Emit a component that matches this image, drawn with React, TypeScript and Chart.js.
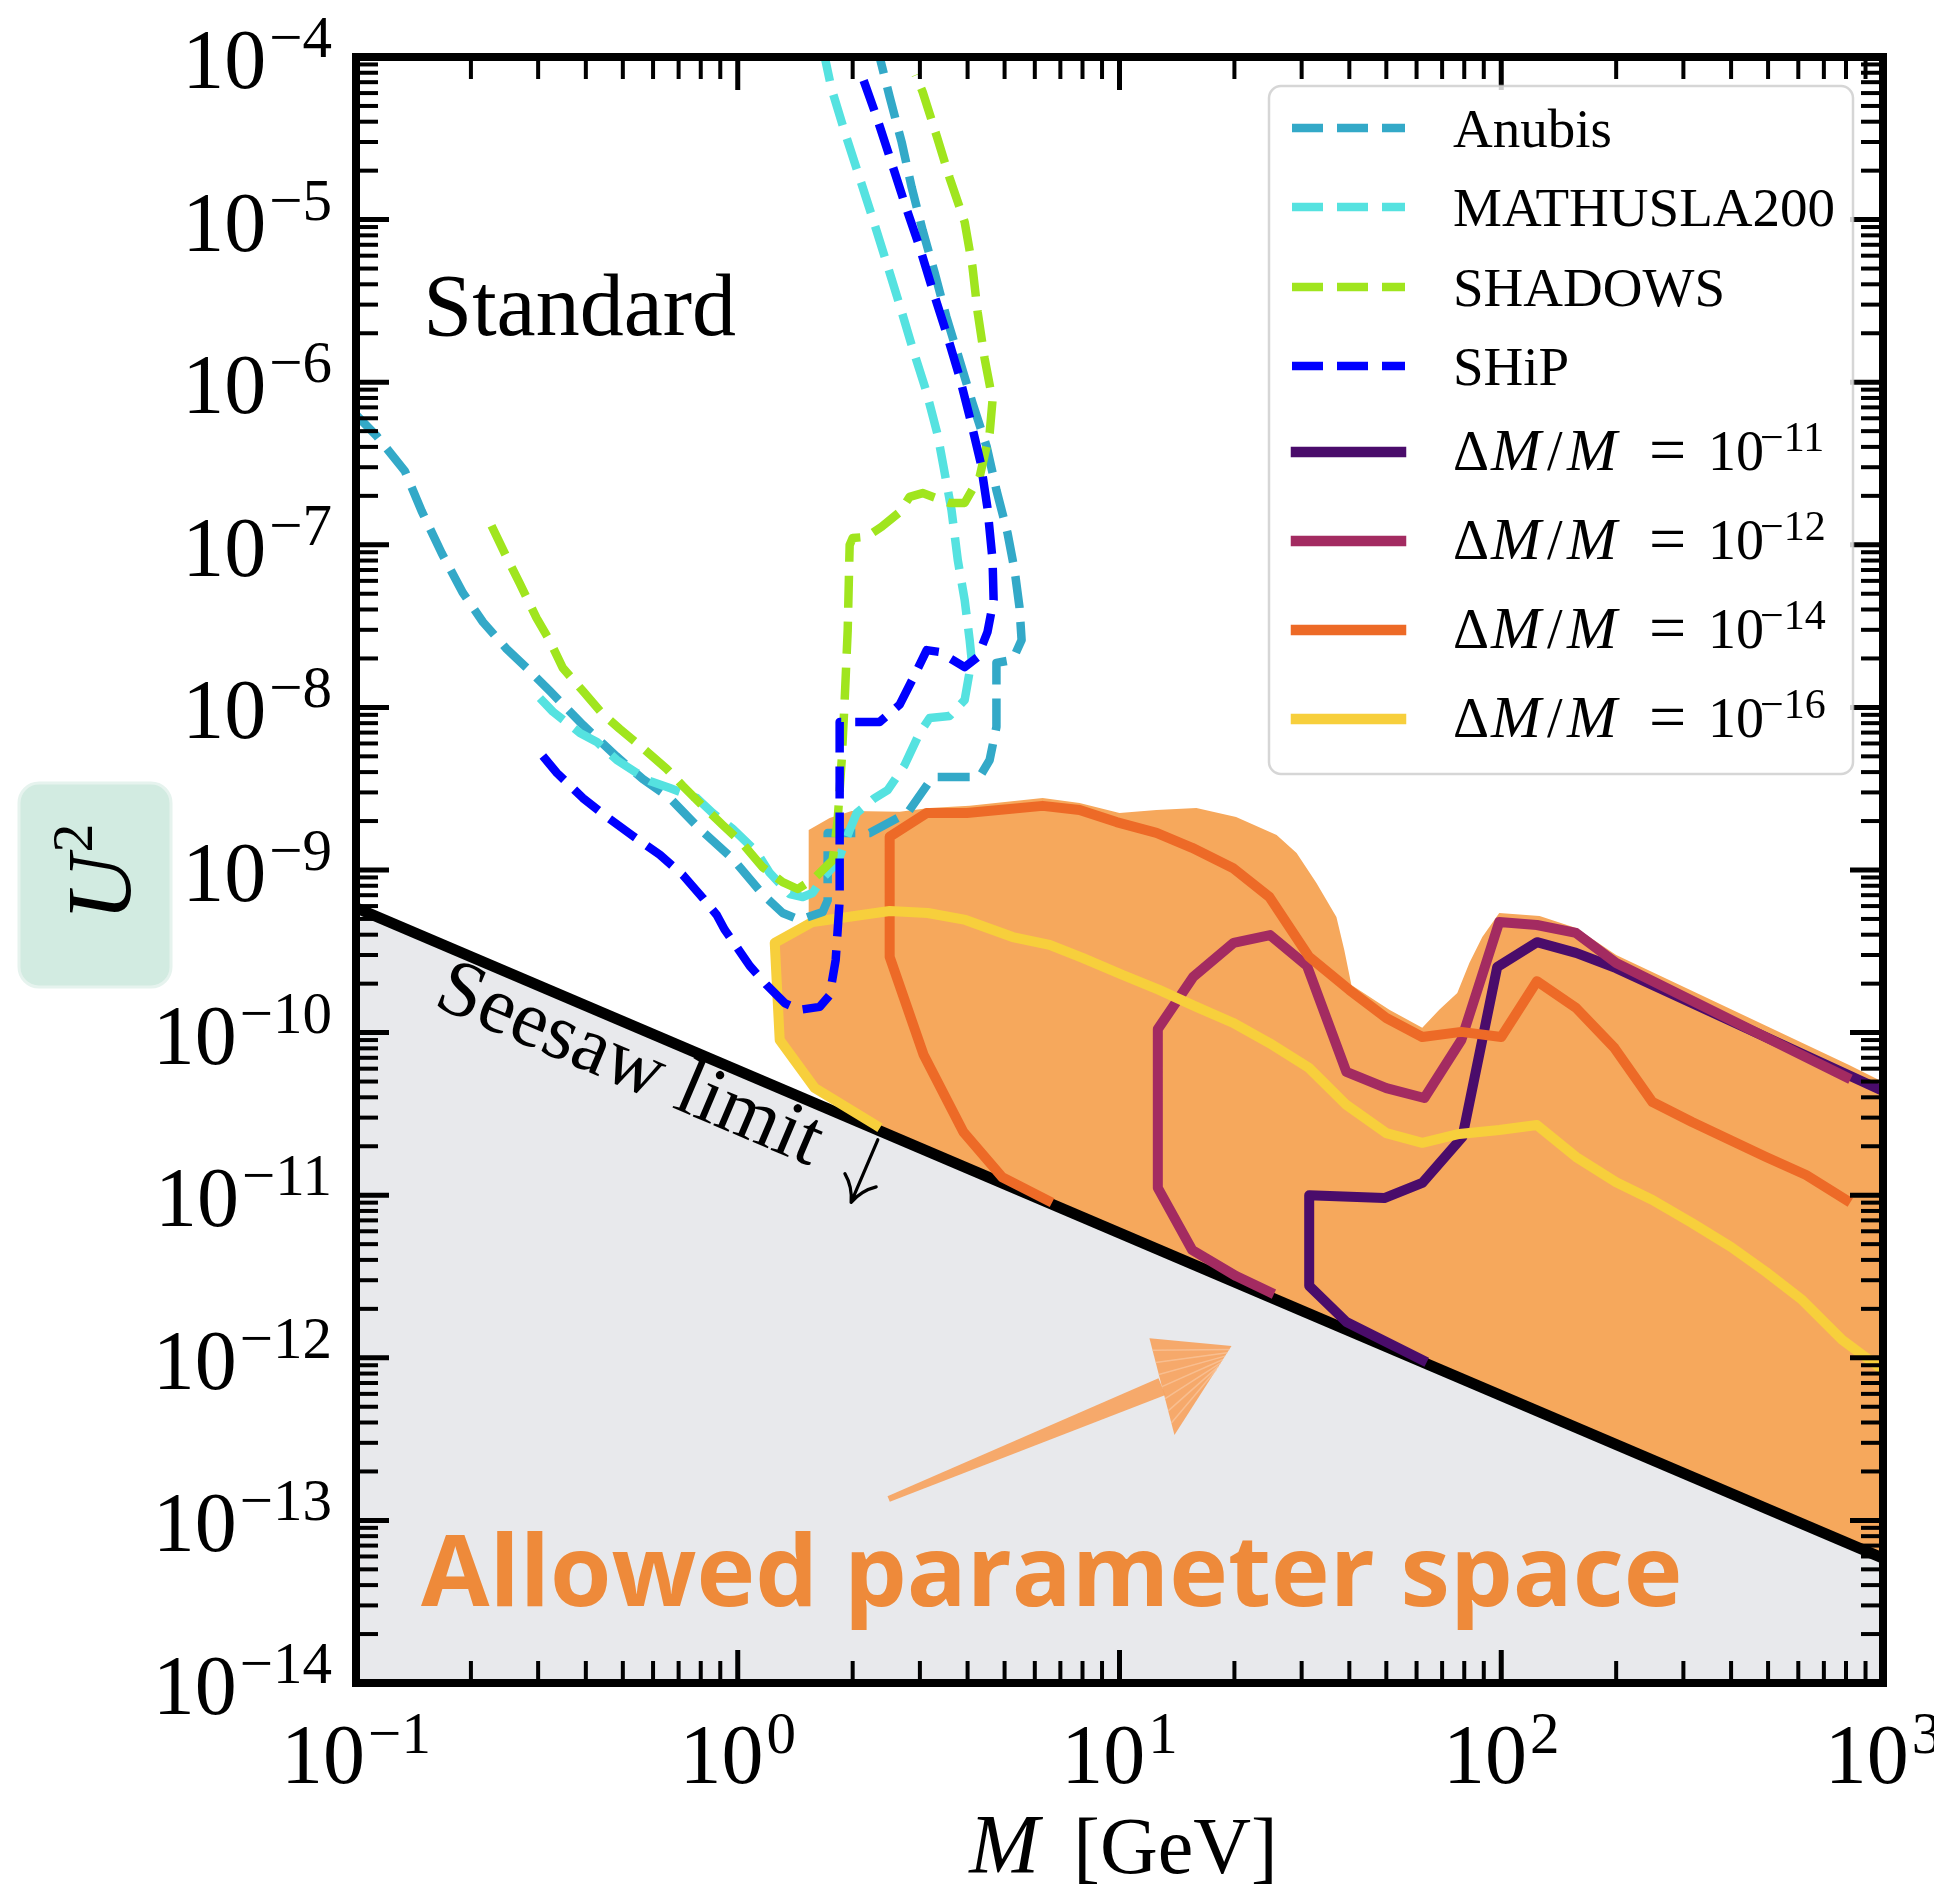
import React, { useEffect, useRef } from "react";
import { Chart, registerables } from "chart.js";

Chart.register(...registerables);

type Pt = [number, number];

// ---------------- axes ----------------
const X_MIN = 0.1;
const X_MAX = 1000;
const Y_MIN = 1e-14;
const Y_MAX = 1e-4;
const X_TICK_EXPONENTS = [-1, 0, 1, 2, 3];
const Y_TICK_EXPONENTS = [-14, -13, -12, -11, -10, -9, -8, -7, -6, -5, -4];

// ---------------- series: [M (GeV), U^2] ----------------
const ANUBIS: Pt[] = [
  [0.1, 6.3e-7], [0.1133, 4.67e-7], [0.1343, 2.84e-7], [0.1486, 1.61e-7], [0.1676, 8.9e-8],
  [0.1906, 5.06e-8], [0.215, 3.35e-8], [0.248, 2.29e-8], [0.28, 1.75e-8], [0.322, 1.26e-8],
  [0.393, 7.8e-9], [0.481, 5.0e-9], [0.564, 3.63e-9], [0.664, 2.77e-9], [0.795, 1.79e-9],
  [0.97, 1.17e-9], [1.162, 7.1e-10], [1.311, 5.44e-10], [1.453, 4.93e-10], [1.669, 5.52e-10],
  [1.72, 6.5e-10], [1.72, 1.69e-9], [2.216, 1.69e-9], [2.786, 2.25e-9], [3.24, 3.73e-9],
  [4.3, 3.73e-9], [4.57, 4.75e-9], [4.76, 7.59e-9], [4.76, 1.88e-8], [5.25, 1.96e-8],
  [5.54, 2.6e-8], [5.47, 4.14e-8], [5.31, 7.0e-8], [5.09, 1.18e-7], [4.76, 2.17e-7],
  [4.49, 4.0e-7], [4.12, 7.45e-7], [3.81, 1.37e-6], [3.52, 2.52e-6], [3.28, 4.7e-6],
  [3.05, 8.6e-6], [2.855, 1.58e-5], [2.687, 3.0e-5], [2.5, 5.68e-5], [2.353, 1e-4],
];

const MATHUSLA200: Pt[] = [
  [0.3032, 1.14e-8], [0.328, 9.4e-9], [0.386, 6.97e-9], [0.4275, 6.13e-9], [0.482, 4.75e-9],
  [0.544, 3.95e-9], [0.588, 3.53e-9], [0.664, 3.19e-9], [0.781, 2.77e-9], [0.86, 2.24e-9],
  [0.97, 1.79e-9], [1.121, 1.29e-9], [1.213, 9.6e-10], [1.368, 7.1e-10], [1.48, 6.82e-10],
  [1.571, 7.22e-10], [1.669, 8.93e-10], [1.827, 1.12e-9], [1.964, 1.76e-9], [2.049, 2.24e-9],
  [2.284, 2.77e-9], [2.47, 3.1e-9], [2.736, 4.42e-9], [2.995, 6.97e-9], [3.18, 8.6e-9],
  [3.59, 8.86e-9], [3.93, 1.11e-8], [4.1, 1.96e-8], [4.05, 2.6e-8], [3.93, 4.58e-8],
  [3.77, 8.06e-8], [3.63, 1.64e-7], [3.34, 4.73e-7], [3.12, 8.75e-7], [2.87, 1.62e-6],
  [2.656, 2.98e-6], [2.45, 5.49e-6], [2.256, 1.02e-5], [2.074, 1.88e-5], [1.906, 3.46e-5],
  [1.759, 6.44e-5], [1.69, 1e-4],
];

const SHADOWS: Pt[] = [
  [0.2265, 1.31e-7], [0.248, 8.41e-8], [0.2687, 5.77e-8], [0.297, 3.55e-8], [0.322, 2.56e-8],
  [0.348, 1.75e-8], [0.393, 1.26e-8], [0.443, 9.1e-9], [0.491, 7.36e-9], [0.564, 5.62e-9],
  [0.652, 4.18e-9], [0.718, 3.29e-9], [0.81, 2.48e-9], [0.913, 1.89e-9], [1.031, 1.45e-9],
  [1.162, 1.04e-9], [1.311, 8.43e-10], [1.436, 7.64e-10], [1.591, 8.93e-10], [1.773, 1.15e-9],
  [1.827, 2.03e-9], [1.872, 4.75e-9], [1.906, 1.11e-8], [1.941, 2.99e-8], [1.964, 9.98e-8],
  [2.0, 1.1e-7], [2.176, 1.12e-7], [2.382, 1.29e-7], [2.656, 1.59e-7], [2.82, 1.97e-7],
  [3.05, 2.08e-7], [3.59, 1.81e-7], [3.93, 1.81e-7], [4.3, 2.61e-7], [4.57, 4.88e-7],
  [4.65, 7.78e-7], [4.43, 1.41e-6], [4.25, 2.7e-6], [4.12, 5.11e-6], [3.93, 9.66e-6],
  [3.59, 1.8e-5], [3.32, 3.27e-5], [3.05, 6.1e-5], [2.924, 7.75e-5],
];

const SHIP: Pt[] = [
  [0.3086, 5.02e-9], [0.336, 3.95e-9], [0.393, 2.77e-9], [0.454, 2.12e-9], [0.531, 1.62e-9],
  [0.625, 1.24e-9], [0.718, 9.31e-10], [0.81, 6.73e-10], [0.881, 5.29e-10], [0.925, 4.28e-10],
  [0.994, 3.36e-10], [1.075, 2.57e-10], [1.191, 1.96e-10], [1.327, 1.52e-10], [1.453, 1.38e-10],
  [1.64, 1.44e-10], [1.741, 1.7e-10], [1.805, 2.79e-10], [1.849, 6.53e-10], [1.849, 8.13e-9],
  [2.353, 8.13e-9], [2.656, 1.04e-8], [2.907, 1.58e-8], [3.126, 2.25e-8], [3.38, 2.19e-8],
  [3.93, 1.77e-8], [4.25, 2.04e-8], [4.51, 2.91e-8], [4.68, 4.58e-8], [4.65, 8.06e-8],
  [4.51, 1.68e-7], [4.33, 3.18e-7], [4.07, 5.86e-7], [3.81, 1.08e-6], [3.52, 2.01e-6],
  [3.24, 3.69e-6], [2.995, 6.78e-6], [2.736, 1.26e-5], [2.515, 2.33e-5], [2.311, 4.28e-5],
  [2.112, 7.75e-5],
];

const DM_1E11: Pt[] = [
  [62.1, 9.7e-13], [39.3, 1.66e-12], [31.4, 2.77e-12], [31.4, 1.0e-11], [49.4, 9.6e-12],
  [62.1, 1.19e-11], [79.1, 2.28e-11], [97.6, 2.53e-10], [124, 3.6e-10], [157, 3.09e-10],
  [200, 2.49e-10], [1000, 4.38e-11],
];

const DM_1E12: Pt[] = [
  [24.7, 2.54e-12], [20.2, 3.18e-12], [15.5, 4.6e-12], [12.6, 1.11e-11], [12.6, 1.05e-10],
  [15.6, 2.2e-10], [19.9, 3.56e-10], [24.8, 3.98e-10], [31.0, 2.57e-10], [39.3, 5.73e-11],
  [50.0, 4.56e-11], [62.9, 3.96e-11], [78.6, 9.0e-11], [98.8, 4.79e-10], [124, 4.59e-10],
  [157, 4.1e-10], [200, 2.68e-10], [800, 5.33e-11],
];

const DM_1E14: Pt[] = [
  [6.48, 9.3e-12], [4.93, 1.29e-11], [3.9, 2.45e-11], [3.07, 7.28e-11], [2.5, 2.92e-10],
  [2.5, 1.6e-9], [3.126, 2.24e-9], [3.98, 2.24e-9], [6.29, 2.48e-9], [7.86, 2.34e-9],
  [9.82, 1.97e-9], [12.5, 1.69e-9], [15.5, 1.37e-9], [19.8, 1.03e-9], [24.7, 6.82e-10],
  [31.4, 2.92e-10], [40.0, 1.83e-10], [50.0, 1.23e-10], [62.1, 9.4e-11], [78.6, 1.01e-10],
  [100, 9.4e-11], [124, 2.07e-10], [157, 1.42e-10], [198, 8.04e-11], [249, 3.74e-11],
  [316, 2.82e-11], [494, 1.72e-11], [629, 1.33e-11], [800, 9.35e-12],
];

const DM_1E16: Pt[] = [
  [2.298, 2.7e-11], [1.591, 4.56e-11], [1.288, 9.0e-11], [1.25, 3.56e-10], [1.571, 4.79e-10],
  [2.5, 5.6e-10], [3.145, 5.44e-10], [3.95, 4.93e-10], [5.25, 3.87e-10], [6.56, 3.46e-10],
  [8.0, 2.88e-10], [10.2, 2.26e-10], [12.7, 1.83e-10], [15.9, 1.44e-10], [19.8, 1.15e-10],
  [24.7, 8.63e-11], [31.4, 6.05e-11], [39.3, 3.59e-11], [50.0, 2.41e-11], [62.1, 2.1e-11],
  [77.6, 2.38e-11], [98.8, 2.52e-11], [124, 2.7e-11], [157, 1.72e-11], [200, 1.2e-11],
  [249, 9.35e-12], [316, 6.75e-12], [400, 4.8e-12], [494, 3.37e-12], [614, 2.27e-12],
  [781, 1.29e-12], [1000, 8.4e-13],
];

const ALLOWED_REGION: Pt[] = [
  [2.298, 2.55e-11], [1.591, 4.7e-11], [1.27, 8.8e-11], [1.235, 3.56e-10], [1.534, 4.79e-10],
  [1.534, 1.76e-9], [1.741, 2.09e-9], [1.988, 2.31e-9], [2.656, 2.28e-9], [3.18, 2.41e-9],
  [4.05, 2.48e-9], [6.29, 2.77e-9], [7.86, 2.58e-9], [10, 2.24e-9], [12.5, 2.34e-9],
  [15.9, 2.41e-9], [20.2, 2.12e-9], [25.8, 1.64e-9], [29.1, 1.27e-9], [32.8, 8.32e-10],
  [37.0, 5.14e-10], [38.8, 3.22e-10], [40.5, 1.96e-10], [50.9, 1.38e-10], [62.1, 1.07e-10],
  [68.8, 1.38e-10], [76.7, 1.75e-10], [82.5, 2.68e-10], [89.2, 3.87e-10], [98.8, 5.44e-10],
  [126, 5.21e-10], [157, 4.4e-10], [200, 3.0e-10], [815, 6.32e-11], [1000, 4.97e-11],
  [1000, 5.86e-14],
];

const SEESAW_LIMIT: Pt[] = [[0.1, 5.86e-10], [1000, 5.86e-14]];

const EXPERIMENT_LABELS = ["Anubis", "MATHUSLA200", "SHADOWS", "SHiP"];
const DM_EXPONENTS = [-11, -12, -14, -16];

// ---------------- annotations (data coordinates) ----------------
const STANDARD_LABEL: Pt = [0.15, 1.95e-6];
const SEESAW_LABEL_M = 0.182;
const ALLOWED_LABEL_START: Pt = [0.148, 2.98e-14];
const ALLOWED_LABEL_END_M = 299;
const SKETCH_ARROW_TAIL: Pt = [2.485, 1.355e-13];
const SKETCH_ARROW_TIP: Pt = [19.65, 1.18e-12];
const SKETCH_ARROW_HEAD_A: Pt = [11.98, 1.32e-12];
const SKETCH_ARROW_HEAD_B: Pt = [13.93, 3.35e-13];

// ---------------- styles ----------------
const EXPERIMENT_COLORS = ["#33a9c8", "#55e2e0", "#a0e51e", "#0000ff"];
const DM_COLORS = ["#4a0c6b", "#a32b61", "#ed6a27", "#f7cf3c"];
const FILL_COLOR = "#f6a85c";
const GRAY_COLOR = "#e8e9ec";
const SERIF = '"Liberation Serif", "DejaVu Serif", serif';
const SANS = '"Open Sans", "Noto Sans", sans-serif';
const MINUS = "\u2212";
const SUPS: Record<string, string> = { "-": "\u207b", "0": "\u2070", "1": "\u00b9", "2": "\u00b2", "3": "\u00b3", "4": "\u2074", "5": "\u2075", "6": "\u2076", "7": "\u2077", "8": "\u2078", "9": "\u2079" };
const toSup = (n: number) => String(n).split("").map((c) => SUPS[c] || c).join("");
const expText = (e: number) => (e < 0 ? MINUS + String(-e) : String(e));
const mk = (pts: Pt[]) => pts.map(([x, y]) => ({ x, y }));

function roundRect(ctx: CanvasRenderingContext2D, x: number, y: number, w: number, h: number, r: number) {
  ctx.beginPath();
  ctx.moveTo(x + r, y);
  ctx.arcTo(x + w, y, x + w, y + h, r);
  ctx.arcTo(x + w, y + h, x, y + h, r);
  ctx.arcTo(x, y + h, x, y, r);
  ctx.arcTo(x, y, x + w, y, r);
  ctx.closePath();
}

function drawPower(
  ctx: CanvasRenderingContext2D, e: number, x: number, baseline: number,
  align: "right" | "center", baseSize: number, supSize: number, rise: number
) {
  const sup = expText(e);
  ctx.font = `${baseSize}px ${SERIF}`;
  const wb = ctx.measureText("10").width;
  ctx.font = `${supSize}px ${SERIF}`;
  const ws = ctx.measureText(sup).width;
  const gap = 3;
  const total = wb + gap + ws;
  const x0 = align === "right" ? x - total : x - total / 2;
  ctx.textAlign = "left";
  ctx.textBaseline = "alphabetic";
  ctx.font = `${baseSize}px ${SERIF}`;
  ctx.fillText("10", x0, baseline);
  ctx.font = `${supSize}px ${SERIF}`;
  ctx.fillText(sup, x0 + wb + gap, baseline - rise);
}

const decorPlugin = {
  id: "decor",
  afterDatasetsDraw(chart: any) {
    const ctx: CanvasRenderingContext2D = chart.ctx;
    const { left, right, top, bottom } = chart.chartArea;
    const xs = chart.scales.x;
    const ys = chart.scales.y;
    const px = (v: number) => xs.getPixelForValue(v);
    const py = (v: number) => ys.getPixelForValue(v);

    ctx.save();
    ctx.fillStyle = "#000";
    ctx.textAlign = "left";
    ctx.textBaseline = "alphabetic";

    // "Standard"
    ctx.font = `88px ${SERIF}`;
    ctx.fillText("Standard", px(STANDARD_LABEL[0]), py(STANDARD_LABEL[1]));

    // "Seesaw limit ↓" along the seesaw line
    const [sa, sb] = SEESAW_LIMIT;
    const pa = { x: px(sa[0]), y: py(sa[1]) };
    const pb = { x: px(sb[0]), y: py(sb[1]) };
    const ang = Math.atan2(pb.y - pa.y, pb.x - pa.x);
    const t = (Math.log10(SEESAW_LABEL_M) - Math.log10(sa[0])) / (Math.log10(sb[0]) - Math.log10(sa[0]));
    const lyv = Math.log10(sa[1]) + t * (Math.log10(sb[1]) - Math.log10(sa[1]));
    ctx.save();
    ctx.translate(px(SEESAW_LABEL_M), py(Math.pow(10, lyv)));
    ctx.rotate(ang);
    ctx.font = `80px ${SERIF}`;
    const seesawText = "Seesaw limit";
    ctx.fillText(seesawText, 0, 60);
    const tw = ctx.measureText(seesawText).width;
    // \downarrow symbol
    const axp = tw + 52;
    ctx.strokeStyle = "#000";
    ctx.lineWidth = 3.2;
    ctx.lineCap = "round";
    ctx.beginPath();
    ctx.moveTo(axp, 9);
    ctx.lineTo(axp, 76);
    ctx.moveTo(axp - 17, 53);
    ctx.quadraticCurveTo(axp - 5, 62, axp, 77);
    ctx.moveTo(axp + 17, 53);
    ctx.quadraticCurveTo(axp + 5, 62, axp, 77);
    ctx.stroke();
    ctx.restore();

    // sketchy arrow
    const tail = { x: px(SKETCH_ARROW_TAIL[0]), y: py(SKETCH_ARROW_TAIL[1]) };
    const tip = { x: px(SKETCH_ARROW_TIP[0]), y: py(SKETCH_ARROW_TIP[1]) };
    const ha = { x: px(SKETCH_ARROW_HEAD_A[0]), y: py(SKETCH_ARROW_HEAD_A[1]) };
    const hb = { x: px(SKETCH_ARROW_HEAD_B[0]), y: py(SKETCH_ARROW_HEAD_B[1]) };
    const hm = { x: (ha.x + hb.x) / 2, y: (ha.y + hb.y) / 2 };
    const dx = hm.x - tail.x, dy = hm.y - tail.y;
    const dl = Math.hypot(dx, dy);
    const nx = -dy / dl, ny = dx / dl;
    ctx.fillStyle = "rgba(246,163,96,0.92)";
    ctx.beginPath();
    ctx.moveTo(tail.x + nx * 3, tail.y + ny * 3);
    ctx.lineTo(hm.x + nx * 9, hm.y + ny * 9);
    ctx.lineTo(hm.x - nx * 9, hm.y - ny * 9);
    ctx.lineTo(tail.x - nx * 3, tail.y - ny * 3);
    ctx.closePath();
    ctx.fill();
    ctx.beginPath();
    ctx.moveTo(ha.x, ha.y);
    ctx.lineTo(tip.x, tip.y);
    ctx.lineTo(hb.x, hb.y);
    ctx.closePath();
    ctx.fill();
    ctx.strokeStyle = "rgba(250,200,160,0.7)";
    ctx.lineWidth = 1.5;
    for (let i = 1; i < 8; i++) {
      const f = i / 8;
      ctx.beginPath();
      ctx.moveTo(ha.x + (hb.x - ha.x) * f, ha.y + (hb.y - ha.y) * f);
      ctx.lineTo(tip.x + (hb.x - tip.x) * f * 0.3, tip.y + (hb.y - tip.y) * f * 0.3);
      ctx.stroke();
    }

    // "Allowed parameter space"
    const ax0 = px(ALLOWED_LABEL_START[0]);
    const ax1 = px(ALLOWED_LABEL_END_M);
    const allowed = "Allowed parameter space";
    ctx.font = `bold 100px ${SANS}`;
    const aw = ctx.measureText(allowed).width;
    const asize = (100 * (ax1 - ax0)) / aw;
    ctx.font = `bold ${asize.toFixed(1)}px ${SANS}`;
    ctx.fillStyle = "#ee8a3a";
    ctx.fillText(allowed, ax0, py(ALLOWED_LABEL_START[1]));

    // spines
    ctx.strokeStyle = "#000";
    ctx.lineWidth = 8;
    ctx.lineJoin = "miter";
    ctx.strokeRect(left, top, right - left, bottom - top);

    // ticks
    const tick = (x1: number, y1: number, x2: number, y2: number, w: number) => {
      ctx.lineWidth = w;
      ctx.lineCap = "butt";
      ctx.beginPath();
      ctx.moveTo(x1, y1);
      ctx.lineTo(x2, y2);
      ctx.stroke();
    };
    const MAJ = 33, MIN = 22, MAJW = 5, MINW = 4;
    X_TICK_EXPONENTS.forEach((e, i) => {
      const p = px(Math.pow(10, e));
      tick(p, bottom, p, bottom - MAJ, MAJW);
      tick(p, top, p, top + MAJ, MAJW);
      if (i < X_TICK_EXPONENTS.length - 1) {
        for (let k = 2; k <= 9; k++) {
          const q = px(k * Math.pow(10, e));
          tick(q, bottom, q, bottom - MIN, MINW);
          tick(q, top, q, top + MIN, MINW);
        }
      }
    });
    Y_TICK_EXPONENTS.forEach((e, i) => {
      const p = py(Math.pow(10, e));
      tick(left, p, left + MAJ, p, MAJW);
      tick(right, p, right - MAJ, p, MAJW);
      if (i < Y_TICK_EXPONENTS.length - 1) {
        for (let k = 2; k <= 9; k++) {
          const q = py(k * Math.pow(10, e));
          tick(left, q, left + MIN, q, MINW);
          tick(right, q, right - MIN, q, MINW);
        }
      }
    });

    // tick labels
    ctx.fillStyle = "#000";
    Y_TICK_EXPONENTS.forEach((e) => {
      const p = py(Math.pow(10, e));
      drawPower(ctx, e, left - 24, p + 31, "right", 84, 59, 31);
    });
    X_TICK_EXPONENTS.forEach((e) => {
      const p = px(Math.pow(10, e));
      drawPower(ctx, e, p, bottom + 100, "center", 84, 59, 30);
    });

    // x axis label: M [GeV]
    {
      ctx.font = `italic 84px ${SERIF}`;
      const wm = ctx.measureText("M").width;
      ctx.font = `80px ${SERIF}`;
      const wg = ctx.measureText("[GeV]").width;
      const gap = 34;
      const tot = wm + gap + wg;
      const x0 = (left + right) / 2 - tot / 2 + 4;
      const bl = bottom + 190;
      ctx.font = `italic 84px ${SERIF}`;
      ctx.fillText("M", x0, bl);
      ctx.font = `80px ${SERIF}`;
      ctx.fillText("[GeV]", x0 + wm + gap, bl);
    }

    // y axis label: U^2 in rounded box
    {
      const cy = (top + bottom) / 2 + 15;
      ctx.fillStyle = "#d2ebe1";
      roundRect(ctx, 11, cy - 102, 152, 204, 20);
      ctx.fill();
      ctx.strokeStyle = "#e6f3ee";
      ctx.lineWidth = 3;
      ctx.stroke();
      ctx.save();
      ctx.translate(122, cy + 36);
      ctx.rotate(-Math.PI / 2);
      ctx.fillStyle = "#000";
      ctx.font = `italic 92px ${SERIF}`;
      const wu = ctx.measureText("U").width;
      ctx.fillText("U", 0, 0);
      ctx.font = `58px ${SERIF}`;
      ctx.fillText("2", wu + 2, -38);
      ctx.restore();
    }

    // legend
    {
      const bw = 584, bh = 688;
      const bx = right - 30 - bw;
      const by = top + 29;
      ctx.fillStyle = "rgba(255,255,255,0.8)";
      roundRect(ctx, bx, by, bw, bh, 12);
      ctx.fill();
      ctx.strokeStyle = "rgba(204,204,204,0.8)";
      ctx.lineWidth = 2.5;
      ctx.stroke();
      const rows = [42, 121, 201, 280, 366, 455, 544, 633];
      const tx = bx + 184;
      ctx.fillStyle = "#000";
      EXPERIMENT_LABELS.forEach((lab, i) => {
        const y = by + rows[i];
        ctx.save();
        ctx.strokeStyle = EXPERIMENT_COLORS[i];
        ctx.lineWidth = 8.5;
        ctx.lineCap = "butt";
        ctx.setLineDash([31, 14]);
        ctx.beginPath();
        ctx.moveTo(bx + 23, y);
        ctx.lineTo(bx + 136, y);
        ctx.stroke();
        ctx.restore();
        ctx.font = `55px ${SERIF}`;
        ctx.fillText(lab, tx, y + 19);
      });
      DM_EXPONENTS.forEach((e, j) => {
        const y = by + rows[4 + j];
        ctx.save();
        ctx.strokeStyle = DM_COLORS[j];
        ctx.lineWidth = 10.5;
        ctx.lineCap = "square";
        ctx.beginPath();
        ctx.moveTo(bx + 27, y);
        ctx.lineTo(bx + 132, y);
        ctx.stroke();
        ctx.restore();
        const bl = y + 18;
        const up = `56px ${SERIF}`;
        const it = `italic 60px ${SERIF}`;
        ctx.font = up; ctx.fillText("\u0394", tx, bl);
        ctx.font = it; ctx.fillText("M", tx + 38, bl);
        ctx.font = up; ctx.fillText("/", tx + 94, bl);
        ctx.font = it; ctx.fillText("M", tx + 114, bl);
        ctx.font = `66px ${SERIF}`; ctx.fillText("=", tx + 196, bl + 2);
        ctx.font = up; ctx.fillText("10", tx + 255, bl);
        ctx.font = `42px ${SERIF}`;
        ctx.fillText(expText(e), tx + 307, y - 1);
      });
    }

    ctx.restore();
  },
};

export default function App() {
  const ref = useRef<HTMLCanvasElement>(null);
  useEffect(() => {
    const canvas = ref.current;
    if (!canvas) return;
    const dashed = (label: string, data: Pt[], color: string, order: number) => ({
      label, data: mk(data), borderColor: color, backgroundColor: color, borderWidth: 8.5,
      borderDash: [32, 14], borderCapStyle: "butt", borderJoinStyle: "round",
      pointRadius: 0, pointHoverRadius: 0, showLine: true, fill: false, tension: 0, order, clip: 0,
    });
    const solid = (label: string, data: Pt[], color: string, order: number) => ({
      label, data: mk(data), borderColor: color, backgroundColor: color, borderWidth: 10,
      borderCapStyle: "square", borderJoinStyle: "round",
      pointRadius: 0, pointHoverRadius: 0, showLine: true, fill: false, tension: 0, order, clip: 0,
    });
    const dmSeries = [DM_1E11, DM_1E12, DM_1E14, DM_1E16];
    const expSeries = [ANUBIS, MATHUSLA200, SHADOWS, SHIP];
    const datasets: any[] = [
      ...expSeries.map((d, i) => dashed(EXPERIMENT_LABELS[i], d, EXPERIMENT_COLORS[i], 4 - i)),
      ...dmSeries.map((d, j) => solid(`\u0394M/M = 10${toSup(DM_EXPONENTS[j])}`, d, DM_COLORS[j], 8 - j)),
      {
        label: "Allowed region", data: mk(ALLOWED_REGION), borderColor: "rgba(0,0,0,0)",
        backgroundColor: FILL_COLOR, borderWidth: 0, pointRadius: 0, showLine: true,
        fill: "shape", tension: 0, order: 9, clip: 0,
      },
      {
        label: "Seesaw limit", data: mk(SEESAW_LIMIT), borderColor: "#000", backgroundColor: GRAY_COLOR,
        borderWidth: 11, borderCapStyle: "butt", pointRadius: 0, showLine: true, fill: "start",
        tension: 0, order: 10, clip: 0,
      },
    ];
    const chart = new Chart(canvas, {
      type: "scatter",
      data: { datasets },
      options: {
        responsive: false,
        animation: false,
        devicePixelRatio: 1,
        events: [],
        layout: { padding: { top: 49, right: 51, bottom: 0, left: 0 } },
        plugins: {
          legend: { display: false },
          tooltip: { enabled: false },
          title: { display: false },
          filler: { drawTime: "beforeDatasetsDraw" },
        },
        scales: {
          x: {
            type: "logarithmic", min: X_MIN, max: X_MAX, position: "bottom",
            grid: { display: false, drawTicks: false }, border: { display: false },
            ticks: { display: false },
            afterFit: (s: any) => { s.height = 203; },
          },
          y: {
            type: "logarithmic", min: Y_MIN, max: Y_MAX, position: "left",
            grid: { display: false, drawTicks: false }, border: { display: false },
            ticks: { display: false },
            afterFit: (s: any) => { s.width = 348; },
          },
        },
      } as any,
      plugins: [decorPlugin],
    } as any);
    return () => chart.destroy();
  }, []);
  return (
    <div style={{ width: 1926, height: 1878 }}>
      <canvas ref={ref} width={1926} height={1878} style={{ display: "block", width: 1926, height: 1878 }} />
    </div>
  );
}
